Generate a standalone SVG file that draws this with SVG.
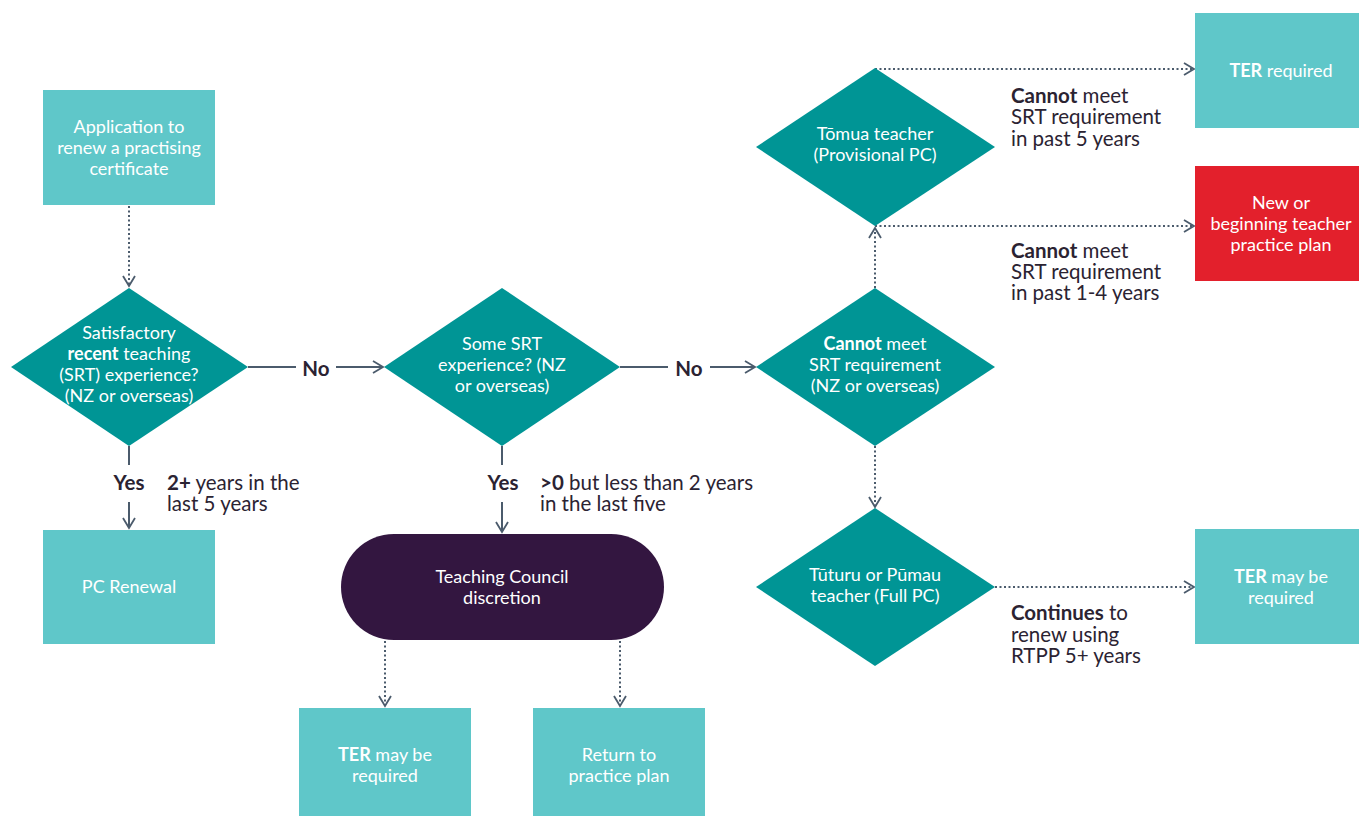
<svg xmlns="http://www.w3.org/2000/svg" width="1359" height="816" viewBox="0 0 1359 816">
<defs>
<marker id="arr" viewBox="0 0 14 14" refX="12" refY="7" markerWidth="14" markerHeight="14" markerUnits="userSpaceOnUse" orient="auto">
<path d="M2,1 L12,7 L2,13" fill="none" stroke="#4b5b6c" stroke-width="1.8"/>
</marker>
<style>
.box{fill:#5fc7c9}
.red{fill:#e3202c}
.dia{fill:#009595}
.pill{fill:#331640}
.nt{font-family:Lato,"Liberation Sans",sans-serif;font-size:18px;fill:#ffffff;text-anchor:middle}
.lb{font-family:Lato,"Liberation Sans",sans-serif;font-size:20.5px;fill:#2b2332}
.b{font-weight:bold}
.solid{fill:none;stroke:#4b5b6c;stroke-width:2}
.dot{fill:none;stroke:#4b5b6c;stroke-width:2;stroke-dasharray:2 2.5}
</style>
</defs>
<rect width="1359" height="816" fill="#ffffff"/>

<g id="connectors">
<path class="dot" d="M129,206 V286" marker-end="url(#arr)"/>
<path class="solid" d="M248,367 H296"/>
<path class="solid" d="M336,367 H383" marker-end="url(#arr)"/>
<path class="solid" d="M129,446 V465"/>
<path class="solid" d="M129,502 V528" marker-end="url(#arr)"/>
<path class="solid" d="M620,367 H668"/>
<path class="solid" d="M710,367 H755" marker-end="url(#arr)"/>
<path class="solid" d="M502,446 V465"/>
<path class="solid" d="M502,502 V532" marker-end="url(#arr)"/>
<path class="dot" d="M875,288 V228" marker-end="url(#arr)"/>
<path class="dot" d="M875,446 V507" marker-end="url(#arr)"/>
<path class="dot" d="M875,69 H1194" marker-end="url(#arr)"/>
<path class="dot" d="M875,226 H1194" marker-end="url(#arr)"/>
<path class="dot" d="M995,587 H1194" marker-end="url(#arr)"/>
<path class="dot" d="M385,641 V706" marker-end="url(#arr)"/>
<path class="dot" d="M620,641 V706" marker-end="url(#arr)"/>
<text class="lb b" x="316" y="376" text-anchor="middle">No</text>
<text class="lb b" x="689" y="376" text-anchor="middle">No</text>
<text class="lb b" x="129" y="490" text-anchor="middle">Yes</text>
<text class="lb" x="167" y="490"><tspan class="b">2+</tspan> years in the</text>
<text class="lb" x="167" y="511">last 5 years</text>
<text class="lb b" x="503" y="490" text-anchor="middle">Yes</text>
<text class="lb" x="540" y="490"><tspan class="b">&gt;0</tspan> but less than 2 years</text>
<text class="lb" x="540" y="511">in the last five</text>
<text class="lb" x="1011" y="103"><tspan class="b">Cannot</tspan> meet</text>
<text class="lb" x="1011" y="124">SRT requirement</text>
<text class="lb" x="1011" y="146">in past 5 years</text>
<text class="lb" x="1011" y="258"><tspan class="b">Cannot</tspan> meet</text>
<text class="lb" x="1011" y="279">SRT requirement</text>
<text class="lb" x="1011" y="300">in past 1-4 years</text>
<text class="lb" x="1011" y="620"><tspan class="b">Continues</tspan> to</text>
<text class="lb" x="1011" y="642">renew using</text>
<text class="lb" x="1011" y="663">RTPP 5+ years</text>
</g>

<g id="application">
<rect class="box" x="43" y="90" width="172" height="115"/>
<text class="nt" x="129" y="133">Application to</text>
<text class="nt" x="129" y="154">renew a practising</text>
<text class="nt" x="129" y="175">certificate</text>
</g>

<g id="d-satisfactory">
<polygon class="dia" points="129,288 248,367 129,446 11,367"/>
<text class="nt" x="129" y="339">Satisfactory</text>
<text class="nt" x="129" y="360"><tspan class="b">recent</tspan> teaching</text>
<text class="nt" x="129" y="381">(SRT) experience?</text>
<text class="nt" x="129" y="402">(NZ or overseas)</text>
</g>

<g id="pc-renewal">
<rect class="box" x="43" y="530" width="172" height="114"/>
<text class="nt" x="129" y="593">PC Renewal</text>
</g>

<g id="d-some">
<polygon class="dia" points="502,288 620,367 502,446 384,367"/>
<text class="nt" x="502" y="350">Some SRT</text>
<text class="nt" x="502" y="371">experience? (NZ</text>
<text class="nt" x="502" y="392">or overseas)</text>
</g>

<g id="discretion">
<rect class="pill" x="341" y="534" width="323" height="106" rx="53"/>
<text class="nt" x="502" y="583">Teaching Council</text>
<text class="nt" x="502" y="604">discretion</text>
</g>

<g id="ter-maybe-bottom">
<rect class="box" x="299" y="708" width="172" height="108"/>
<text class="nt" x="385" y="761"><tspan class="b">TER</tspan> may be</text>
<text class="nt" x="385" y="782">required</text>
</g>

<g id="return-plan">
<rect class="box" x="533" y="708" width="172" height="108"/>
<text class="nt" x="619" y="761">Return to</text>
<text class="nt" x="619" y="782">practice plan</text>
</g>

<g id="d-cannot">
<polygon class="dia" points="875,288 995,367 875,446 756,367"/>
<text class="nt" x="875" y="350"><tspan class="b">Cannot</tspan> meet</text>
<text class="nt" x="875" y="371">SRT requirement</text>
<text class="nt" x="875" y="392">(NZ or overseas)</text>
</g>

<g id="d-tomua">
<polygon class="dia" points="875,68 995,147 875,226 756,147"/>
<text class="nt" x="875" y="140">Tōmua teacher</text>
<text class="nt" x="875" y="161">(Provisional PC)</text>
</g>

<g id="d-tuturu">
<polygon class="dia" points="875,508 995,587 875,666 756,587"/>
<text class="nt" x="875" y="581">Tūturu or Pūmau</text>
<text class="nt" x="875" y="602">teacher (Full PC)</text>
</g>

<g id="ter-required">
<rect class="box" x="1195" y="13" width="164" height="115"/>
<text class="nt" x="1281" y="77"><tspan class="b">TER</tspan> required</text>
</g>

<g id="new-plan">
<rect class="red" x="1195" y="166" width="164" height="115"/>
<text class="nt" x="1281" y="209">New or</text>
<text class="nt" x="1281" y="230">beginning teacher</text>
<text class="nt" x="1281" y="251">practice plan</text>
</g>

<g id="ter-maybe-right">
<rect class="box" x="1195" y="529" width="164" height="115"/>
<text class="nt" x="1281" y="583"><tspan class="b">TER</tspan> may be</text>
<text class="nt" x="1281" y="604">required</text>
</g>
</svg>
